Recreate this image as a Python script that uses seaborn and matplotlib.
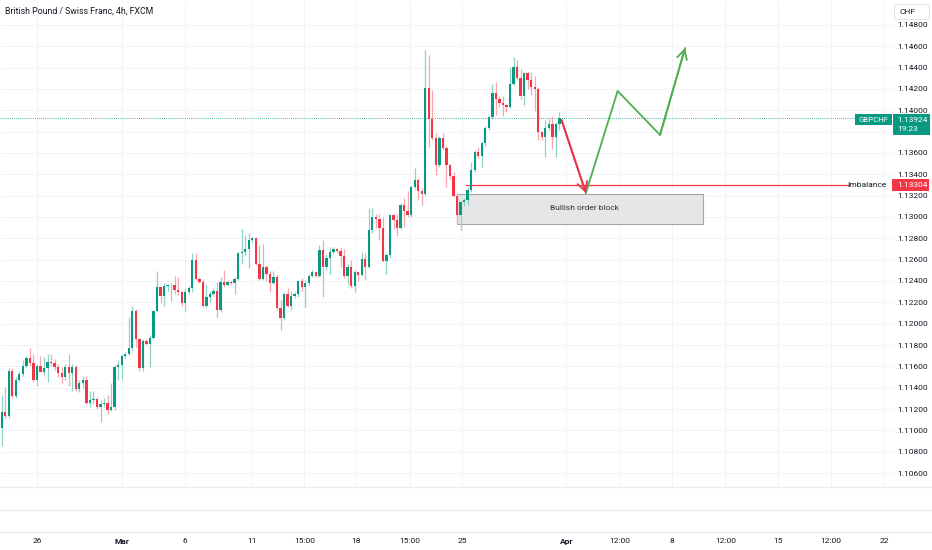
import matplotlib
matplotlib.use("Agg")
import matplotlib.pyplot as plt
from matplotlib.patches import Rectangle
from matplotlib.lines import Line2D
import seaborn as sns
import numpy as np
import pandas as pd

# GBPCHF 4h bars (oldest first)
opens = [
    1.1102, 1.1117, 1.1113, 1.1156, 1.1132, 1.1147, 1.1153, 1.1160, 1.1168, 1.1163,
    1.1147, 1.1160, 1.1155, 1.1158, 1.1164, 1.1163, 1.1159, 1.1154, 1.1150, 1.1159,
    1.1154, 1.1159, 1.1139, 1.1144, 1.1147, 1.1126, 1.1128, 1.1129, 1.1122, 1.1125,
    1.1126, 1.1119, 1.1122, 1.1159, 1.1161, 1.1170, 1.1172, 1.1177, 1.1212, 1.1186,
    1.1158, 1.1184, 1.1181, 1.1187, 1.1212, 1.1234, 1.1226, 1.1235, 1.1236, 1.1236,
    1.1232, 1.1230, 1.1219, 1.1230, 1.1233, 1.1260, 1.1242, 1.1239, 1.1217, 1.1225,
    1.1228, 1.1231, 1.1213, 1.1239, 1.1236, 1.1239, 1.1238, 1.1242, 1.1266, 1.1267,
    1.1270, 1.1278, 1.1280, 1.1256, 1.1242, 1.1253, 1.1247, 1.1238, 1.1244, 1.1215,
    1.1205, 1.1228, 1.1217, 1.1226, 1.1228, 1.1240, 1.1234, 1.1238, 1.1245, 1.1248,
    1.1245, 1.1269, 1.1253, 1.1262, 1.1267, 1.1270, 1.1268, 1.1263, 1.1245, 1.1253,
    1.1235, 1.1248, 1.1246, 1.1261, 1.1253, 1.1288, 1.1300, 1.1298, 1.1290, 1.1259,
    1.1264, 1.1302, 1.1297, 1.1290, 1.1311, 1.1306, 1.1302, 1.1328, 1.1335, 1.1324,
    1.1322, 1.1421, 1.1392, 1.1374, 1.1349, 1.1374, 1.1365, 1.1349, 1.1338, 1.1320,
    1.1302, 1.1314, 1.1316, 1.1325, 1.1344, 1.1361, 1.1357, 1.1369, 1.1383, 1.1394,
    1.1416, 1.1411, 1.1407, 1.1405, 1.1403, 1.1425, 1.1441, 1.1430, 1.1413, 1.1435,
    1.1428, 1.1422, 1.1420, 1.1380, 1.1375, 1.1383, 1.1387, 1.1375, 1.1387,
]
highs = [
    1.1133, 1.1141, 1.1158, 1.1158, 1.1150, 1.1155, 1.1166, 1.1170, 1.1177, 1.1172,
    1.1162, 1.1170, 1.1169, 1.1172, 1.1172, 1.1167, 1.1162, 1.1159, 1.1162, 1.1172,
    1.1162, 1.1161, 1.1147, 1.1151, 1.1151, 1.1137, 1.1137, 1.1131, 1.1128, 1.1130,
    1.1133, 1.1144, 1.1161, 1.1166, 1.1172, 1.1173, 1.1206, 1.1217, 1.1214, 1.1187,
    1.1186, 1.1186, 1.1189, 1.1213, 1.1249, 1.1234, 1.1238, 1.1237, 1.1238, 1.1245,
    1.1244, 1.1231, 1.1233, 1.1235, 1.1266, 1.1266, 1.1244, 1.1242, 1.1236, 1.1231,
    1.1233, 1.1239, 1.1244, 1.1250, 1.1241, 1.1240, 1.1244, 1.1267, 1.1289, 1.1283,
    1.1285, 1.1281, 1.1281, 1.1274, 1.1275, 1.1255, 1.1249, 1.1249, 1.1246, 1.1222,
    1.1230, 1.1233, 1.1231, 1.1230, 1.1241, 1.1243, 1.1241, 1.1247, 1.1250, 1.1249,
    1.1274, 1.1278, 1.1265, 1.1272, 1.1272, 1.1271, 1.1272, 1.1270, 1.1256, 1.1260,
    1.1250, 1.1249, 1.1267, 1.1266, 1.1308, 1.1308, 1.1303, 1.1303, 1.1300, 1.1266,
    1.1303, 1.1303, 1.1303, 1.1313, 1.1318, 1.1324, 1.1330, 1.1346, 1.1337, 1.1327,
    1.1457, 1.1452, 1.1419, 1.1379, 1.1376, 1.1379, 1.1367, 1.1350, 1.1342, 1.1322,
    1.1316, 1.1318, 1.1328, 1.1352, 1.1363, 1.1366, 1.1371, 1.1385, 1.1396, 1.1425,
    1.1427, 1.1413, 1.1413, 1.1406, 1.1441, 1.1450, 1.1447, 1.1439, 1.1436, 1.1436,
    1.1436, 1.1432, 1.1422, 1.1381, 1.1391, 1.1393, 1.1395, 1.1389, 1.1398,
]
lows = [
    1.1085, 1.1112, 1.1112, 1.1130, 1.1130, 1.1145, 1.1151, 1.1158, 1.1160, 1.1145,
    1.1142, 1.1155, 1.1152, 1.1145, 1.1160, 1.1157, 1.1150, 1.1144, 1.1147, 1.1142,
    1.1137, 1.1137, 1.1136, 1.1140, 1.1125, 1.1122, 1.1125, 1.1120, 1.1108, 1.1122,
    1.1115, 1.1118, 1.1119, 1.1147, 1.1147, 1.1168, 1.1171, 1.1174, 1.1178, 1.1156,
    1.1156, 1.1180, 1.1159, 1.1186, 1.1211, 1.1219, 1.1217, 1.1231, 1.1221, 1.1228,
    1.1227, 1.1217, 1.1212, 1.1228, 1.1230, 1.1241, 1.1238, 1.1216, 1.1216, 1.1220,
    1.1226, 1.1206, 1.1211, 1.1234, 1.1235, 1.1236, 1.1228, 1.1241, 1.1256, 1.1263,
    1.1252, 1.1277, 1.1255, 1.1241, 1.1241, 1.1240, 1.1230, 1.1237, 1.1213, 1.1194,
    1.1203, 1.1216, 1.1213, 1.1224, 1.1225, 1.1231, 1.1216, 1.1236, 1.1244, 1.1244,
    1.1244, 1.1225, 1.1250, 1.1247, 1.1265, 1.1266, 1.1253, 1.1243, 1.1237, 1.1233,
    1.1230, 1.1240, 1.1245, 1.1241, 1.1252, 1.1285, 1.1290, 1.1278, 1.1258, 1.1247,
    1.1262, 1.1289, 1.1282, 1.1289, 1.1291, 1.1300, 1.1300, 1.1326, 1.1316, 1.1311,
    1.1320, 1.1366, 1.1372, 1.1339, 1.1347, 1.1363, 1.1328, 1.1336, 1.1319, 1.1294,
    1.1288, 1.1310, 1.1311, 1.1323, 1.1342, 1.1355, 1.1347, 1.1367, 1.1382, 1.1392,
    1.1396, 1.1403, 1.1395, 1.1398, 1.1402, 1.1424, 1.1428, 1.1411, 1.1405, 1.1420,
    1.1414, 1.1399, 1.1372, 1.1372, 1.1356, 1.1382, 1.1364, 1.1356, 1.1382,
]
closes = [
    1.1117, 1.1113, 1.1156, 1.1132, 1.1147, 1.1153, 1.1160, 1.1168, 1.1163, 1.1147,
    1.1160, 1.1155, 1.1158, 1.1164, 1.1163, 1.1159, 1.1154, 1.1150, 1.1159, 1.1154,
    1.1159, 1.1139, 1.1144, 1.1147, 1.1126, 1.1128, 1.1129, 1.1122, 1.1125, 1.1126,
    1.1119, 1.1122, 1.1159, 1.1161, 1.1170, 1.1172, 1.1177, 1.1212, 1.1186, 1.1158,
    1.1184, 1.1181, 1.1187, 1.1212, 1.1234, 1.1226, 1.1235, 1.1236, 1.1236, 1.1232,
    1.1230, 1.1219, 1.1230, 1.1233, 1.1260, 1.1242, 1.1239, 1.1217, 1.1225, 1.1228,
    1.1231, 1.1213, 1.1239, 1.1236, 1.1239, 1.1238, 1.1242, 1.1266, 1.1267, 1.1270,
    1.1278, 1.1280, 1.1256, 1.1242, 1.1253, 1.1247, 1.1238, 1.1244, 1.1215, 1.1205,
    1.1228, 1.1217, 1.1226, 1.1228, 1.1240, 1.1234, 1.1238, 1.1245, 1.1248, 1.1245,
    1.1269, 1.1253, 1.1262, 1.1267, 1.1270, 1.1268, 1.1263, 1.1245, 1.1253, 1.1235,
    1.1248, 1.1246, 1.1261, 1.1253, 1.1288, 1.1300, 1.1298, 1.1290, 1.1259, 1.1264,
    1.1302, 1.1297, 1.1290, 1.1311, 1.1306, 1.1302, 1.1328, 1.1335, 1.1324, 1.1322,
    1.1421, 1.1392, 1.1374, 1.1349, 1.1374, 1.1365, 1.1349, 1.1338, 1.1320, 1.1302,
    1.1314, 1.1316, 1.1325, 1.1344, 1.1361, 1.1357, 1.1369, 1.1383, 1.1394, 1.1416,
    1.1411, 1.1407, 1.1405, 1.1403, 1.1425, 1.1441, 1.1430, 1.1413, 1.1435, 1.1428,
    1.1422, 1.1420, 1.1380, 1.1375, 1.1383, 1.1387, 1.1375, 1.1387, 1.13924,
]

# axis labels (time axis positions are in bar units, 6 bars per trading day)
price_ticks = [1.106, 1.108, 1.110, 1.112, 1.114, 1.116, 1.118, 1.120, 1.122, 1.124, 1.126,
               1.128, 1.130, 1.132, 1.134, 1.136, 1.138, 1.140, 1.142, 1.144, 1.146, 1.148]
hidden_price_label = 1.138  # sits under the last-price badge
date_labels = ["26", "Mar", "6", "11", "15:00", "18", "15:00", "25",
               "Apr", "12:00", "8", "12:00", "15", "12:00", "22"]
date_bars = [11, 35, 53, 72, 86.75, 101.5, 116.75, 131.5, 161, 176, 191, 206, 221, 236, 251]

# drawings on the chart
last_price = 1.13924
countdown = "19:23"
imbalance_price = 1.13304
imbalance_span = [132.5, 241.0]
order_block_x = [130.0, 199.7]
order_block_y = [1.12934, 1.13216]
red_path_x = [159.6, 166.5]
red_path_y = [1.13909, 1.13225]
green_path_x = [166.5, 175.5, 187.5, 194.6]
green_path_y = [1.13225, 1.14181, 1.13769, 1.14584]

W, H = 932, 550
UP, DOWN = "#089981", "#F23645"
TXT = "#131722"

sns.set_theme(style="white")
plt.rcParams['font.family'] = ['Roboto', 'DejaVu Sans']


def fx(x):
    return x / W


def fy(y):
    return 1 - y / H


fig = plt.figure(figsize=(W / 100, H / 100), dpi=100)
fig.patch.set_facecolor("white")
ax = fig.add_axes([0, (H - 487) / H, 893 / W, 487 / H])
ax.set_facecolor("white")

df = pd.DataFrame({"bar": np.arange(1, len(closes) + 1), "open": opens,
                   "high": highs, "low": lows, "close": closes})
df["up"] = df["close"] >= df["open"]

# candles: light wicks, solid bodies
ax.vlines(df["bar"], df["low"], df["high"],
          colors=np.where(df["up"], "#8fd3c8", "#f8a7ae"), lw=0.9, zorder=2)
body = (df["close"] - df["open"]).abs().clip(lower=0.00004)
ax.bar(df["bar"], body, bottom=np.minimum(df["open"], df["close"]), width=0.66,
       color=np.where(df["up"], UP, DOWN), linewidth=0, zorder=3)

# current price line
ax.plot([0, 242.7], [last_price, last_price], ls=(0, (1, 1.5)), color=UP, lw=0.6, zorder=1)

# order block + imbalance
ax.add_patch(Rectangle((order_block_x[0], order_block_y[0]),
                       order_block_x[1] - order_block_x[0], order_block_y[1] - order_block_y[0],
                       facecolor="#e6e6e8", edgecolor="#a5a5a8", lw=0.8, zorder=1.5))
ax.text(166, 1.13084, "Bullish order block", fontsize=6, color="#333333",
        ha="center", va="center", zorder=4)
ax.plot(imbalance_span, [imbalance_price, imbalance_price], color=DOWN, lw=0.9, zorder=1.6)

# projected path
sns.lineplot(x=red_path_x, y=red_path_y, sort=False, color="#e8344a", lw=1.3, ax=ax, zorder=5)
sns.lineplot(x=green_path_x, y=green_path_y, sort=False, color="#4caf50", lw=1.3, ax=ax, zorder=5)
ax.annotate("", xy=(red_path_x[-1], red_path_y[-1]), xytext=(red_path_x[-2], red_path_y[-2]),
            arrowprops=dict(arrowstyle="->,head_length=0.55,head_width=0.3", color="#e8344a",
                            lw=1.3, shrinkA=0, shrinkB=0), zorder=5)
ax.annotate("", xy=(green_path_x[-1], green_path_y[-1]), xytext=(green_path_x[-2], green_path_y[-2]),
            arrowprops=dict(arrowstyle="->,head_length=0.55,head_width=0.3", color="#4caf50",
                            lw=1.3, shrinkA=0, shrinkB=0), zorder=5)

# axes, grid, ticks
ax.set_xlim(0.527, 253.5)
ax.set_ylim(1.10469, 1.15034)
ax.set_xlabel("")
ax.set_ylabel("")
ax.set_yticks(price_ticks)
ax.set_yticklabels(["" if abs(p - hidden_price_label) < 1e-9 else f"{p:.5f}" for p in price_ticks])
ax.set_xticks(date_bars)
ax.set_xticklabels(date_labels)
ax.grid(True, color="#f3f4f7", lw=0.7, zorder=0)
ax.set_axisbelow(True)
for s in ax.spines.values():
    s.set_visible(False)
ax.yaxis.tick_right()
ax.tick_params(axis="y", length=0, pad=3, labelsize=6, labelcolor=TXT)
ax.tick_params(axis="x", length=0, pad=37, labelsize=6, labelcolor=TXT)
for lab in ax.get_xticklabels():
    if lab.get_text() in ("Mar", "Apr"):
        lab.set_fontweight("bold")

# pane separators
for yy in (487, 510, 532):
    fig.add_artist(Line2D([0, 1], [fy(yy), fy(yy)], color="#ececef", lw=0.8))

# title and currency box
fig.text(fx(5), fy(11), "British Pound / Swiss Franc, 4h, FXCM", fontsize=6.3,
         color=TXT, va="center", ha="left")
fig.add_artist(Rectangle((fx(894), fy(19)), fx(35), 15 / H, facecolor="white",
                         edgecolor="#e0e3eb", lw=0.8))
fig.text(fx(899), fy(11.5), "CHF", fontsize=6, color=TXT, va="center", ha="left")

# last price badges
fig.add_artist(Rectangle((fx(855), fy(125)), fx(37), 11 / H, facecolor=UP, lw=0))
fig.text(fx(873.5), fy(119.5), "GBPCHF", fontsize=5.6, color="white", va="center", ha="center")
fig.add_artist(Rectangle((fx(893), fy(135)), fx(37), 21 / H, facecolor=UP, lw=0))
fig.text(fx(897), fy(119.5), f"{last_price:.5f}", fontsize=6, color="white", va="center", ha="left")
fig.text(fx(897), fy(129), countdown, fontsize=6, color="white", va="center", ha="left")

# imbalance badges
fig.text(fx(887), fy(185), "Imbalance", fontsize=6, color=TXT, va="center", ha="right")
fig.add_artist(Rectangle((fx(892), fy(191)), fx(37), 12 / H, facecolor=DOWN, lw=0))
fig.text(fx(897), fy(185), f"{imbalance_price:.5f}", fontsize=6, color="white", va="center", ha="left")

fig.savefig("out.png", dpi=100)
